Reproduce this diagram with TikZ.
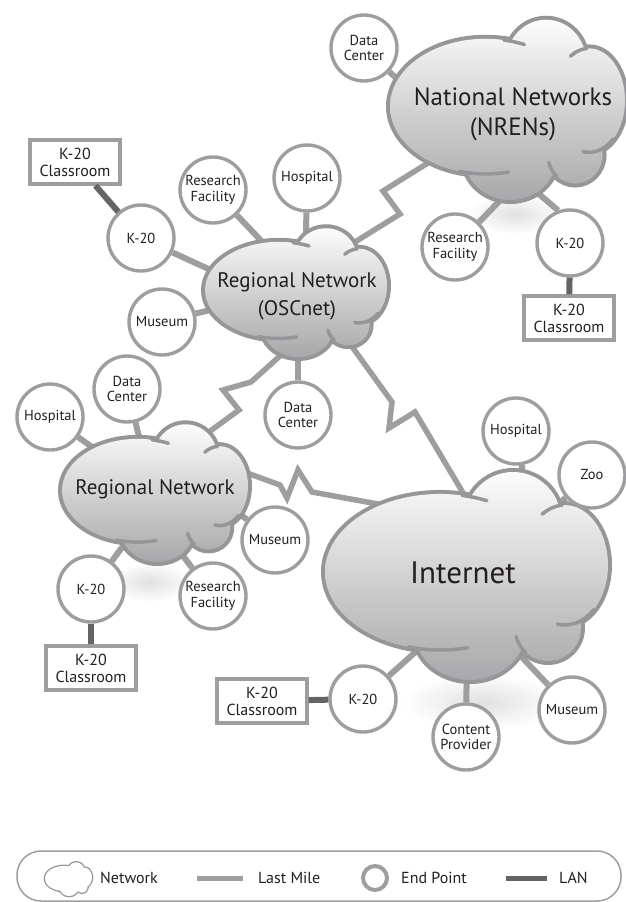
\documentclass[tikz,border=0pt]{standalone}
\usepackage{fontspec}
\setmainfont{PT Sans}
\usetikzlibrary{calc}
\definecolor{lm}{RGB}{158,158,160}
\definecolor{lan}{RGB}{100,100,102}
\definecolor{txt}{RGB}{35,31,32}
\definecolor{cloudtop}{RGB}{252,252,252}
\definecolor{cloudmid}{RGB}{230,230,231}
\definecolor{cloudbot}{RGB}{168,168,170}
\definecolor{cloudedge}{RGB}{150,150,153}
\pgfdeclarelayer{shadow}
\pgfdeclarelayer{conn}
\pgfdeclarelayer{clouds}
\pgfsetlayers{shadow,conn,clouds,main}
\newcommand\cloudlobes{(-0.187,-0.029) ellipse[x radius=0.813, y radius=0.743]
  (0.329,-0.524) ellipse[x radius=0.339, y radius=0.457]
  (0.696,-0.095) ellipse[x radius=0.304, y radius=0.571]
  (0.576,0.505) ellipse[x radius=0.233, y radius=0.314]
  (0.025,0.543) ellipse[x radius=0.389, y radius=0.457]}
\newcommand\drawcloud[4]{%
  \begin{scope}[shift={(#1,#2)}, xscale=#3, yscale=#4]
    \draw[draw=cloudedge, line width=8pt] \cloudlobes;
    \shade[top color=cloudtop, middle color=cloudmid, bottom color=cloudbot] \cloudlobes;
    \begin{scope}[draw=cloudedge, line width=3.5pt, line cap=round]
      \draw plot[domain=281:294, samples=10, smooth] ({-0.187+0.813*cos(\x)},{-0.029+0.743*sin(\x)});
      \draw plot[domain=266:238, samples=10, smooth] ({0.696+0.304*cos(\x)},{-0.095+0.571*sin(\x)});
      \draw plot[domain=48:100, samples=10, smooth] ({0.696+0.304*cos(\x)},{-0.095+0.571*sin(\x)});
      \draw plot[domain=132:165, samples=10, smooth] ({0.576+0.233*cos(\x)},{0.505+0.314*sin(\x)});
      \draw plot[domain=106:76, samples=10, smooth] ({-0.187+0.813*cos(\x)},{-0.029+0.743*sin(\x)});
    \end{scope}
  \end{scope}}
\begin{document}
\begin{tikzpicture}[x=1pt,y=-1pt,
  endpoint/.style={circle, draw=lm, line width=3.4pt, fill=white, minimum size=66pt,
    inner sep=0pt, align=center, text=txt, font=\fontsize{14.5}{15.5}\selectfont},
  classbox/.style={rectangle, draw=lm, line width=3.2pt, fill=white, minimum width=90pt,
    minimum height=44pt, inner sep=0pt, align=center, text=txt, font=\fontsize{16}{17}\selectfont},
  cloudlabel/.style={align=center, text=txt, inner sep=0pt},
  lastmile/.style={draw=lm, line width=6pt},
  zigline/.style={draw=lm, line width=5.5pt, line join=miter},
  lanline/.style={draw=lan, line width=6pt},
  legendtext/.style={anchor=west, inner sep=0pt, text=txt, font=\fontsize{16}{18}\selectfont},
  shadowblob/.style={inner color=black!12, outer color=white}]
\useasboundingbox (0,0) rectangle (626,902);

% ---------- clouds ----------
\begin{pgfonlayer}{shadow}
  \shade[shadowblob] (515,214) ellipse[x radius=48, y radius=20];
  \shade[shadowblob] (150,582) ellipse[x radius=42, y radius=20];
  \shade[shadowblob] (482,702) ellipse[x radius=80, y radius=28];
\end{pgfonlayer}
\begin{pgfonlayer}{clouds}
  \drawcloud{507.5}{109}{117.5}{91}
  \drawcloud{296}{292}{91}{65}
  \drawcloud{155}{492.5}{93}{69.5}
  \drawcloud{466.5}{575}{141.5}{105}
\end{pgfonlayer}
\node[cloudlabel, font=\fontsize{25}{30}\selectfont] (nren) at (513,114) {National Networks\\(NRENs)};
\node[cloudlabel, font=\fontsize{21}{28}\selectfont] (osc) at (297,296) {Regional Network\\(OSCnet)};
\node[cloudlabel, font=\fontsize{21}{25}\selectfont] (reg) at (155,489) {Regional Network};
\node[cloudlabel, font=\fontsize{31}{35}\selectfont] (inet) at (463,573) {Internet};

% ---------- end points ----------
\node[endpoint] (dcN) at (364,48) {Data\\Center};
\node[endpoint] (rfN) at (455,247) {Research\\Facility};
\node[endpoint] (kN) at (570,243) {K-20};
\node[classbox] (boxN) at (569,318) {K-20\\Classroom};

\node[endpoint] (hoO) at (307,178) {Hospital};
\node[endpoint] (rfO) at (213,190) {Research\\Facility};
\node[endpoint] (kO) at (141,238) {K-20};
\node[classbox] (boxO) at (75,162) {K-20\\Classroom};
\node[endpoint] (muO) at (162,322) {Museum};
\node[endpoint] (dcO) at (298,415) {Data\\Center};

\node[endpoint] (hoR) at (50,417) {Hospital};
\node[endpoint] (dcR) at (127,389) {Data\\Center};
\node[endpoint] (muR) at (275,540) {Museum};
\node[endpoint] (rfR) at (213,596) {Research\\Facility};
\node[endpoint] (kR) at (91,589) {K-20};
\node[classbox] (boxR) at (91,668) {K-20\\Classroom};

\node[endpoint] (hoI) at (516,431) {Hospital};
\node[endpoint] (zoo) at (592,475) {Zoo};
\node[endpoint] (kI) at (363,699) {K-20};
\node[classbox] (boxI) at (262,701) {K-20\\Classroom};
\node[endpoint] (cpI) at (466,737) {Content\\Provider};
\node[endpoint] (muI) at (572,710) {Museum};

% ---------- hub coordinates inside clouds ----------
\coordinate (dcNt) at (430,110);
\coordinate (rfNt) at (515,185);
\coordinate (kNt) at (520,178);
\coordinate (hoOt) at (305,290);
\coordinate (rfOt) at (270,250);
\coordinate (kOt) at (250,288);
\coordinate (muOt) at (250,300);
\coordinate (dcOt) at (298,320);
\coordinate (hoRt) at (120,467);
\coordinate (dcRt) at (145,460);
\coordinate (muRt) at (200,485);
\coordinate (rfRt) at (175,545);
\coordinate (kRt) at (135,530);
\coordinate (hoIt) at (522,520);
\coordinate (zooIt) at (540,520);
\coordinate (kIt) at (440,630);
\coordinate (cpIt) at (467,640);
\coordinate (muIt) at (515,650);

% zigzag points
\coordinate (a0) at (318,265); \coordinate (a1) at (400,214);
\coordinate (a2) at (383,191); \coordinate (a3) at (460,143);
\coordinate (b0) at (290,347); \coordinate (b1) at (251,382);
\coordinate (b2) at (223,390); \coordinate (b3) at (239,410);
\coordinate (b4) at (180,453);
\coordinate (c0) at (340,330); \coordinate (c1) at (392,402);
\coordinate (c2) at (389,428); \coordinate (c3) at (415,412);
\coordinate (c4) at (475,513);
\coordinate (d0) at (220,463); \coordinate (d1) at (280,485);
\coordinate (d2) at (287,498); \coordinate (d3) at (298,470);
\coordinate (d4) at (312,492); \coordinate (d5) at (400,508);

\begin{pgfonlayer}{conn}
  \draw[lastmile] (dcN) -- (dcNt);
  \draw[lastmile] (rfN) -- (rfNt);
  \draw[lastmile] (kN.110) -- (kNt);
  \draw[lastmile] (hoO) -- (hoOt);
  \draw[lastmile] (rfO) -- (rfOt);
  \draw[lastmile] (kO) -- (kOt);
  \draw[lastmile] (muO) -- (muOt);
  \draw[lastmile] (dcO) -- (dcOt);
  \draw[lastmile] (hoR) -- (hoRt);
  \draw[lastmile] (dcR) -- (dcRt);
  \draw[lastmile] (muR) -- (muRt);
  \draw[lastmile] (rfR) -- (rfRt);
  \draw[lastmile] (kR) -- (kRt);
  \draw[lastmile] (hoI.-80) -- (hoIt);
  \draw[lastmile] (zoo) -- (zooIt);
  \draw[lastmile] (kI) -- (kIt);
  \draw[lastmile] (cpI) -- (cpIt);
  \draw[lastmile] (muI) -- (muIt);
  \draw[zigline] (a0) -- (a1) -- (a2) -- (a3);
  \draw[zigline] (b0) -- (b1) -- (b2) -- (b3) -- (b4);
  \draw[zigline] (c0) -- (c1) -- (c2) -- (c3) -- (c4);
  \draw[zigline] (d0) -- (d1) -- (d2) -- (d3) -- (d4) -- (d5);
\end{pgfonlayer}

% LAN links
\draw[lanline] (boxN) -- (kN);
\draw[lanline] (boxO) -- (kO);
\draw[lanline] (boxR) -- (kR);
\draw[lanline] (boxI) -- (kI);

% ---------- legend ----------
\node[draw=lm, line width=1.5pt, rounded corners=24pt, minimum width=604pt, minimum height=50pt, inner sep=0pt] (legend) at (319,876) {};
\begin{scope}[shift={(68.5,879)}, xscale=23.5, yscale=17]
  \draw[draw=cloudedge, line width=2.6pt] \cloudlobes;
  \fill[white] \cloudlobes;
\end{scope}
\node[legendtext] (ltnet) at (100,878) {Network};
\coordinate (lm1) at (197,878); \coordinate (lm2) at (243,878);
\draw[draw=lm, line width=5pt] (lm1) -- (lm2);
\node[legendtext] (ltlm) at (258,878) {Last Mile};
\node[circle, draw=lm, line width=4pt, minimum size=24pt, inner sep=0pt] (lep) at (375,878) {};
\node[legendtext] (ltep) at (401,878) {End Point};
\coordinate (ln1) at (506,878); \coordinate (ln2) at (547,878);
\draw[draw=lan, line width=5pt] (ln1) -- (ln2);
\node[legendtext] (ltlan) at (559,878) {LAN};
\end{tikzpicture}
\end{document}
